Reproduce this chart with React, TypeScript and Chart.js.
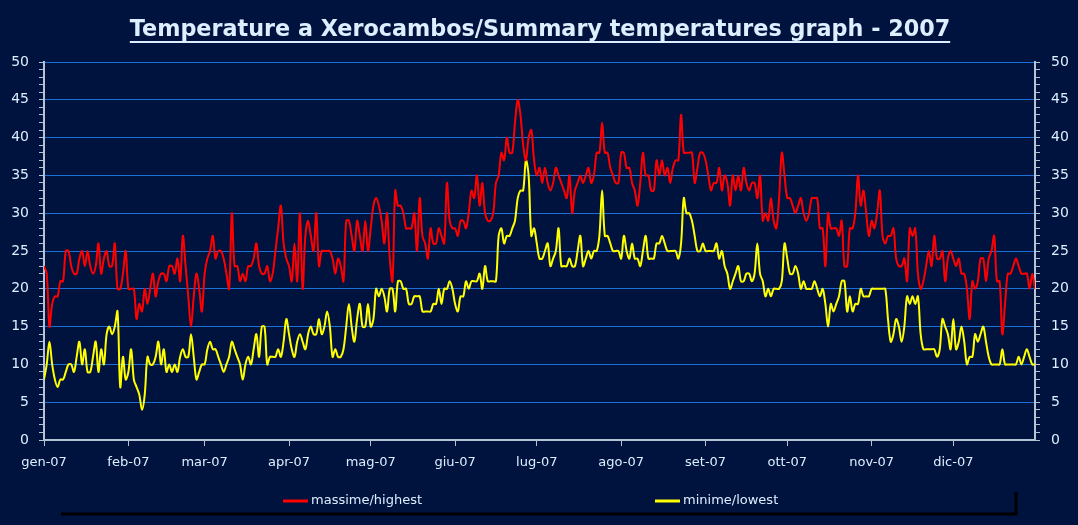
import React, { useEffect, useRef } from 'react';
import { Chart, registerables } from 'chart.js';

Chart.register(...registerables);

const titleText = 'Temperature a Xerocambos/Summary temperatures graph - 2007';
const seriesNames = ['massime/highest', 'minime/lowest'];
const monthStarts = [0, 31, 59, 90, 120, 151, 181, 212, 243, 273, 304, 334];
const monthLabels = ['gen-07', 'feb-07', 'mar-07', 'apr-07', 'mag-07', 'giu-07', 'lug-07', 'ago-07', 'set-07', 'ott-07', 'nov-07', 'dic-07'];

// daily maximum temperatures (1 Jan - 31 Dec 2007)
const highest = [
  23, 22, 15, 18, 19, 19, 21, 21, 25, 25, 23, 22, 22, 24, 25, 23, 25, 23, 22, 23,
  26, 22, 24, 25, 23, 23, 26, 20, 20, 22, 25, 20, 20, 20, 16, 18, 17, 20, 18, 20,
  22, 19, 21, 22, 22, 21, 23,
  23, 22, 24, 21, 27, 23, 19, 15, 19, 22, 20, 17, 22, 24, 25, 27, 24, 25, 25, 24,
  22, 20, 30, 23, 23, 21, 22, 21, 23, 23, 24, 26, 23, 22, 22, 23, 21, 22, 25, 28,
  31, 26, 24, 23, 21, 26,
  21, 30, 20, 27, 29, 27, 25, 30, 23, 25, 25, 25, 25, 24, 22, 24, 23, 21, 29, 29,
  27, 25, 29, 27, 25, 29, 25, 28, 31, 32, 31, 29, 26, 30, 24, 21, 33, 31, 31, 30,
  28, 28, 28, 30, 25, 32,
  27, 26, 24, 28, 26, 26, 28, 27, 26, 34, 29, 28, 28, 27, 29, 29, 28, 30, 33, 32,
  35, 31, 34, 30, 29, 29, 30, 34, 35, 38, 37, 40, 38, 38, 42, 45, 43, 39, 37, 40,
  41, 37, 35, 36, 34, 36,
  34, 33, 34, 36, 35, 34, 33, 32, 35, 30, 33, 34, 35, 34, 35, 36, 34, 35, 38, 38,
  42, 38, 38, 36, 35, 34, 34, 38, 38, 36, 36, 34, 33, 31, 34, 38, 35, 35, 33, 33,
  37, 35, 37, 35, 36,
  34, 36, 37, 37, 43, 38, 38, 38, 38, 34, 36, 38, 38, 37, 35, 33, 34, 34, 36, 33,
  35, 34, 31, 35, 33, 35, 33, 36, 34, 33, 34, 34, 32, 35, 29, 30, 29, 32, 29, 28,
  32, 38, 35, 32, 32, 31,
  30, 31, 32, 30, 29, 30, 32, 32, 32, 28, 28, 23, 30, 28, 28, 28, 27, 29, 23, 23,
  28, 28, 30, 35, 31, 33, 30, 27, 29, 28, 30, 33, 27, 26, 27, 27, 28, 24, 23, 23,
  24, 21, 28, 27, 28, 22,
  20, 21, 23, 25, 23, 27, 24, 24, 25, 21, 24, 25, 24, 23, 24, 22, 22, 20, 16, 21,
  20, 21, 24, 24, 21, 24, 25, 27, 21, 21, 14, 18, 22, 22, 23, 24, 23, 22, 22, 22,
  20, 22, 20,
];

// daily minimum temperatures (1 Jan - 31 Dec 2007)
const lowest = [
  8, 10, 13, 10, 8, 7, 8, 8, 9, 10, 10, 9, 11, 13, 10, 12, 9, 9, 11, 13,
  9, 12, 10, 14, 15, 14, 15, 17, 7, 11, 8, 9, 12, 8, 7, 6, 4, 6, 11, 10,
  10, 11, 13, 10, 12, 9, 10,
  9, 10, 9, 11, 12, 11, 11, 14, 11, 8, 9, 10, 10, 12, 13, 12, 12, 11, 10, 9,
  10, 11, 13, 12, 11, 10, 8, 10, 11, 10, 12, 14, 11, 15, 15, 10, 11, 11, 11, 12,
  11, 13, 16, 14, 12, 11,
  13, 14, 13, 12, 14, 15, 14, 14, 16, 14, 15, 17, 15, 11, 12, 11, 11, 12, 15, 18,
  15, 13, 16, 18, 15, 15, 18, 15, 16, 20, 19, 20, 19, 17, 20, 20, 17, 21, 21, 20,
  20, 18, 18, 19, 19, 19,
  17, 17, 17, 17, 18, 18, 20, 18, 20, 20, 21, 20, 18, 17, 19, 19, 21, 20, 21, 21,
  21, 22, 20, 23, 21, 21, 21, 21, 27, 28, 26, 27, 27, 28, 29, 32, 33, 33, 37, 35,
  27, 28, 26, 24, 24, 25,
  26, 23, 24, 25, 28, 23, 23, 23, 24, 23, 23, 25, 27, 23, 24, 25, 24, 25, 25, 27,
  33, 27, 27, 26, 25, 25, 25, 24, 27, 25, 24, 26, 24, 24, 23, 25, 27, 24, 24, 24,
  26, 26, 27, 26, 25,
  25, 25, 25, 24, 26, 32, 30, 30, 29, 27, 25, 25, 26, 25, 25, 25, 25, 26, 24, 25,
  23, 22, 20, 21, 22, 23, 21, 21, 22, 22, 21, 22, 26, 22, 21, 19, 20, 19, 20, 20,
  20, 21, 26, 24, 22, 22,
  23, 22, 20, 21, 20, 20, 20, 21, 20, 19, 20, 18, 15, 18, 17, 18, 19, 21, 21, 17,
  19, 17, 18, 18, 20, 19, 19, 19, 20, 20, 20, 20, 20, 20, 16, 13, 14, 16, 15, 13,
  15, 19, 18, 19, 18, 19,
  14, 12, 12, 12, 12, 12, 11, 12, 16, 15, 14, 12, 16, 12, 13, 15, 13, 10, 11, 11,
  14, 13, 14, 15, 13, 11, 10, 10, 10, 10, 12, 10, 10, 10, 10, 10, 11, 10, 11, 12,
  11, 10, 10,
];

const BG = '#00133F';
const GRID = '#1A6FD8';
const AXIS = '#B4C4D4';
const TEXT = '#DDEEFF';
const RED = '#FF0000';
const YELLOW = '#FFFF00';
const FONT = '"DejaVu Sans", sans-serif';

const decorPlugin = {
  id: 'decor',
  beforeDraw(chart: any) {
    const ctx = chart.ctx;
    ctx.save();
    ctx.fillStyle = BG;
    ctx.fillRect(0, 0, chart.width, chart.height);
    ctx.restore();
  },
  afterDraw(chart: any) {
    const ctx = chart.ctx;
    ctx.save();
    // title
    let size = 22;
    ctx.font = `bold ${size}px ${FONT}`;
    const w0 = ctx.measureText(titleText).width;
    size = size * 821 / w0;
    ctx.font = `bold ${size}px ${FONT}`;
    const tw = ctx.measureText(titleText).width;
    const cx = 540;
    ctx.fillStyle = TEXT;
    ctx.textAlign = 'center';
    ctx.textBaseline = 'alphabetic';
    ctx.fillText(titleText, cx, 36);
    ctx.strokeStyle = TEXT;
    ctx.lineWidth = 2;
    ctx.beginPath();
    ctx.moveTo(cx - tw / 2, 42);
    ctx.lineTo(cx + tw / 2, 42);
    ctx.stroke();

    // legend box shadow
    ctx.strokeStyle = '#000000';
    ctx.lineWidth = 3;
    ctx.beginPath();
    ctx.moveTo(61, 514);
    ctx.lineTo(1016, 514);
    ctx.lineTo(1016, 492);
    ctx.stroke();

    // legend items
    const items = [
      { label: seriesNames[0], color: RED, x: 283 },
      { label: seriesNames[1], color: YELLOW, x: 655 },
    ];
    ctx.font = `13px ${FONT}`;
    ctx.textAlign = 'left';
    ctx.textBaseline = 'middle';
    for (const it of items) {
      ctx.strokeStyle = it.color;
      ctx.lineWidth = 3;
      ctx.beginPath();
      ctx.moveTo(it.x, 501);
      ctx.lineTo(it.x + 25, 501);
      ctx.stroke();
      ctx.fillStyle = TEXT;
      ctx.fillText(it.label, it.x + 28, 501);
    }
    ctx.restore();
  },
};

function yScale(position: 'left' | 'right', primary: boolean, width: number) {
  return {
    type: 'linear',
    position,
    min: 0,
    max: 50,
    afterFit(scale: any) {
      scale.width = width;
    },
    ticks: {
      stepSize: 1,
      autoSkip: false,
      color: TEXT,
      font: { family: FONT, size: 14 },
      padding: position === 'left' ? 10 : 11,
      callback: (v: number) => (v % 5 === 0 ? String(v) : ''),
    },
    grid: {
      drawOnChartArea: primary,
      color: (c: any) => (c.tick && c.tick.value % 5 === 0 && c.tick.value !== 0 ? GRID : 'rgba(0,0,0,0)'),
      tickColor: AXIS,
      tickLength: 5,
      lineWidth: 1,
    },
    border: { display: true, color: AXIS, width: 2 },
  };
}

export default function App() {
  const ref = useRef<HTMLCanvasElement | null>(null);

  useEffect(() => {
    if (!ref.current) return;
    const chart = new Chart(ref.current, {
      type: 'line',
      data: {
        datasets: [
          {
            label: seriesNames[0],
            data: highest.map((v, i) => ({ x: i, y: v })),
            borderColor: RED,
            backgroundColor: RED,
            borderWidth: 2,
            pointRadius: 0,
            tension: 0.35,
            yAxisID: 'y',
          },
          {
            label: seriesNames[1],
            data: lowest.map((v, i) => ({ x: i, y: v })),
            borderColor: YELLOW,
            backgroundColor: YELLOW,
            borderWidth: 2,
            pointRadius: 0,
            tension: 0.35,
            yAxisID: 'y',
          },
        ],
      },
      options: {
        responsive: false,
        animation: false,
        devicePixelRatio: 1,
        layout: { padding: { top: 62, left: 0, right: 0, bottom: 0 } },
        plugins: {
          legend: { display: false },
          tooltip: { enabled: false },
          title: { display: false },
        },
        scales: {
          x: {
            type: 'linear',
            min: 0,
            max: highest.length - 1,
            afterFit(scale: any) {
              scale.height = 85;
            },
            afterBuildTicks(scale: any) {
              scale.ticks = monthStarts.map((v) => ({ value: v }));
            },
            ticks: {
              autoSkip: false,
              maxRotation: 0,
              color: TEXT,
              font: { family: FONT, size: 13 },
              padding: 9,
              callback: (_v: any, i: number) => monthLabels[i],
            },
            grid: {
              drawOnChartArea: false,
              color: AXIS,
              tickColor: AXIS,
              tickLength: 6,
              lineWidth: 1,
            },
            border: { display: true, color: AXIS, width: 2 },
          },
          y: yScale('left', true, 44) as any,
          y2: yScale('right', false, 43) as any,
        },
      } as any,
      plugins: [decorPlugin],
    });
    return () => chart.destroy();
  }, []);

  return (
    <div style={{ position: 'fixed', left: 0, top: 0, width: 1078, height: 525, background: BG }}>
      <canvas ref={ref} width={1078} height={525} style={{ display: 'block' }} />
    </div>
  );
}
